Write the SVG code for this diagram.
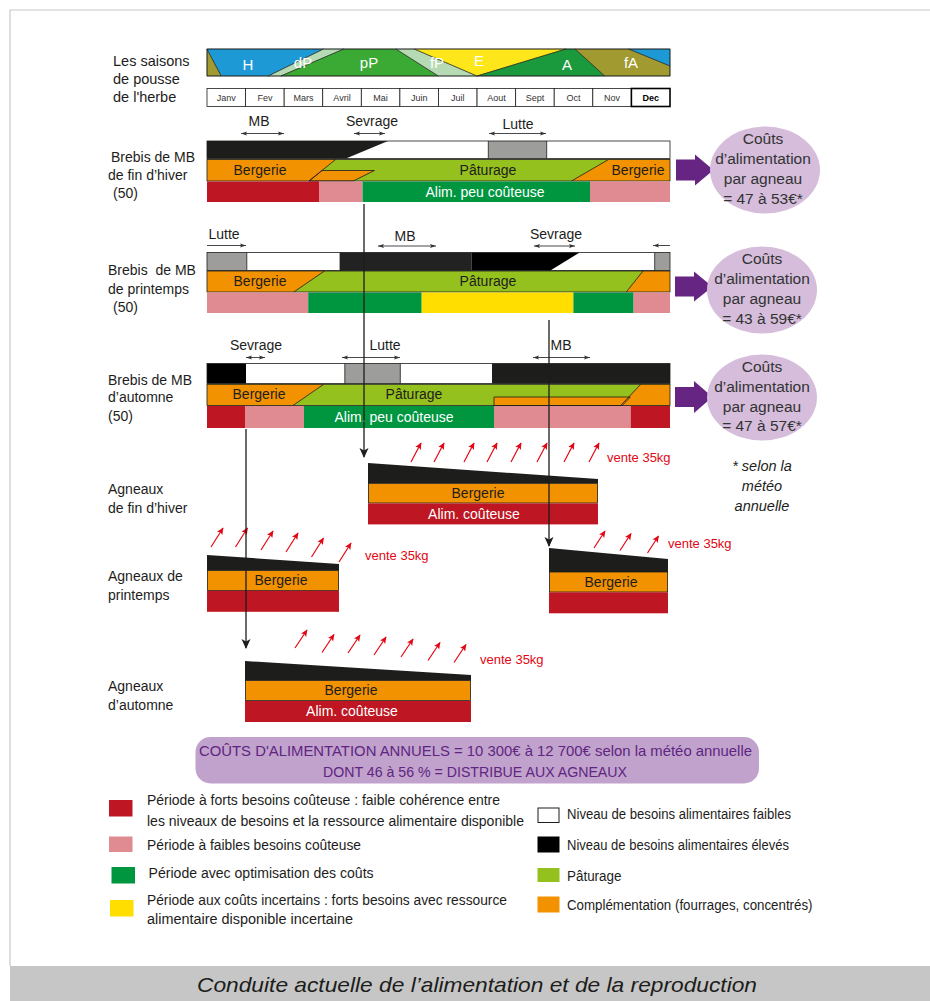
<svg xmlns="http://www.w3.org/2000/svg" width="930" height="1001" viewBox="0 0 930 1001">
<style>
text{font-family:"Liberation Sans",Arial,sans-serif;}
.lbl{font-size:14px;fill:#1d1d1b;}
.bar{font-size:14px;fill:#1d1d1b;text-anchor:middle;}
.wt{font-size:14px;fill:#fff;text-anchor:middle;}
.ssn{font-size:15px;fill:#fff;text-anchor:middle;}
.mo{font-size:9px;fill:#333;text-anchor:middle;}
.ell{font-size:15.5px;fill:#333;text-anchor:middle;}
.vente{font-size:13px;fill:#e30613;}
.leg{font-size:14px;fill:#1d1d1b;}
.ol{stroke:#1d1d1b;stroke-width:0.8;}
.sp{stroke:#1d1d1b;stroke-width:0.6;}
.la{stroke:#333;stroke-width:0.9;fill:none;marker-start:url(#sa);marker-end:url(#sa);}
.ra{stroke:#e30613;stroke-width:1.2;marker-end:url(#ra);}
.con{stroke:#1d1d1b;stroke-width:1.3;fill:none;marker-end:url(#ah);}
.red{fill:#be1622;}.pink{fill:#e08a92;}.dg{fill:#009640;}.yel{fill:#ffde00;}
.or{fill:#f39200;}.pat{fill:#95c11f;}.blk{fill:#1d1d1b;}.gry{fill:#9d9d9c;}
.parr{fill:#662483;}
.ellf{fill:#d5bddb;}
</style>
<defs>
<marker id="ah" markerUnits="userSpaceOnUse" markerWidth="10" markerHeight="10" viewBox="0 0 10 10" refX="9" refY="5" orient="auto"><path d="M0,0.5 L10,5 L0,9.5 L2.5,5 z" fill="#1d1d1b"/></marker>
<marker id="sa" markerUnits="userSpaceOnUse" markerWidth="6" markerHeight="6" viewBox="0 0 10 10" refX="10" refY="5" orient="auto-start-reverse"><path d="M0,1.5 L10,5 L0,8.5 L2,5 z" fill="#333"/></marker>
<marker id="ra" markerUnits="userSpaceOnUse" markerWidth="7" markerHeight="7" viewBox="0 0 10 10" refX="9" refY="5" orient="auto"><path d="M0,0.5 L10,5 L0,9.5 L2,5 z" fill="#e30613"/></marker>
</defs>

<rect x="0" y="0" width="930" height="1001" fill="#fff"/>
<path d="M10,966 L10,10 L930,10" fill="none" stroke="#c8c8c8" stroke-width="1.2"/>

<!-- Seasons -->
<g id="saisons">
<text class="lbl" x="113" y="66" style="font-size:14.5px">Les saisons</text>
<text class="lbl" x="113" y="84" style="font-size:14.5px">de pousse</text>
<text class="lbl" x="113" y="102" style="font-size:14.5px">de l'herbe</text>
<polygon class="sp" fill="#a09a30" points="207,49 221.3,76 207,76"/>
<polygon class="sp" fill="#1d9ad6" points="207,49 323.7,49 268.3,76 221.3,76"/>
<polygon class="sp" fill="#b6dab3" points="323.7,49 344,49 281,76 268.3,76"/>
<polygon class="sp" fill="#3aaa35" points="344,49 396,49 438.4,76 281,76"/>
<polygon class="sp" fill="#b6dab3" points="396,49 414.3,49 477.2,76 438.4,76"/>
<polygon class="sp" fill="#fde71a" points="414.3,49 566,49 477.2,76"/>
<polygon class="sp" fill="#1a9a3c" points="566,49 575.2,49 604.8,76 477.2,76"/>
<polygon class="sp" fill="#a09a30" points="575.2,49 628.8,49 670,65.9 670,76 604.8,76"/>
<polygon class="sp" fill="#1d9ad6" points="628.8,49 670,49 670,65.9"/>
<rect x="207" y="49" width="463" height="27" fill="none" class="sp"/>
<text class="ssn" x="248" y="70">H</text>
<text class="ssn" x="303" y="68">dP</text>
<text class="ssn" x="369" y="68">pP</text>
<text class="ssn" x="437" y="68">fP</text>
<text class="ssn" x="479" y="66">E</text>
<text class="ssn" x="567" y="70">A</text>
<text class="ssn" x="631" y="68">fA</text>
</g>

<g id="mois">
<rect x="207" y="88.5" width="38.58" height="18" fill="#fff" class="ol"/>
<rect x="245.58" y="88.5" width="38.58" height="18" fill="#fff" class="ol"/>
<rect x="284.16" y="88.5" width="38.58" height="18" fill="#fff" class="ol"/>
<rect x="322.74" y="88.5" width="38.58" height="18" fill="#fff" class="ol"/>
<rect x="361.32" y="88.5" width="38.58" height="18" fill="#fff" class="ol"/>
<rect x="399.9" y="88.5" width="38.58" height="18" fill="#fff" class="ol"/>
<rect x="438.48" y="88.5" width="38.58" height="18" fill="#fff" class="ol"/>
<rect x="477.06" y="88.5" width="38.58" height="18" fill="#fff" class="ol"/>
<rect x="515.64" y="88.5" width="38.58" height="18" fill="#fff" class="ol"/>
<rect x="554.22" y="88.5" width="38.58" height="18" fill="#fff" class="ol"/>
<rect x="592.8" y="88.5" width="38.58" height="18" fill="#fff" class="ol"/>
<rect x="631.38" y="88.5" width="38.62" height="18" fill="#fff" stroke="#000" stroke-width="1.6"/>
<text class="mo" x="226.3" y="101">Janv</text>
<text class="mo" x="264.9" y="101">Fev</text>
<text class="mo" x="303.5" y="101">Mars</text>
<text class="mo" x="342" y="101">Avril</text>
<text class="mo" x="380.6" y="101">Mai</text>
<text class="mo" x="419.2" y="101">Juin</text>
<text class="mo" x="457.8" y="101">Juil</text>
<text class="mo" x="496.4" y="101">Aout</text>
<text class="mo" x="534.9" y="101">Sept</text>
<text class="mo" x="573.5" y="101">Oct</text>
<text class="mo" x="612.1" y="101">Nov</text>
<text class="mo" x="650.7" y="101" style="font-weight:bold;fill:#000">Dec</text>
</g>

<!-- Row 1 -->
<g id="brebis-fin-hiver">
<text class="lbl" x="111" y="162">Brebis de MB</text>
<text class="lbl" x="108" y="180">de fin d’hiver</text>
<text class="lbl" x="113" y="198">(50)</text>
<text class="bar" x="259" y="126">MB</text>
<line class="la" x1="241" y1="133.5" x2="284" y2="133.5"/>
<text class="bar" x="372" y="126">Sevrage</text>
<line class="la" x1="354" y1="133.5" x2="385" y2="133.5"/>
<text class="bar" x="518" y="129">Lutte</text>
<line class="la" x1="489" y1="133.5" x2="546" y2="133.5"/>
<rect x="207" y="141" width="463" height="17.5" fill="#fff"/>
<polygon class="blk" points="207,141 388,141 346,158.5 207,158.5"/>
<rect class="gry" x="488.3" y="141" width="58.4" height="17.5"/>
<line x1="488.3" y1="141" x2="488.3" y2="158.5" class="ol"/>
<line x1="546.7" y1="141" x2="546.7" y2="158.5" class="ol"/>
<rect x="207" y="141" width="463" height="17.5" fill="none" class="ol"/>
<rect class="pat" x="207" y="159.5" width="463" height="21.5"/>
<polygon class="or" points="207,159.5 335.6,159.5 309,181 207,181"/>
<polygon class="or" points="608.5,159.5 670,159.5 670,181 571.5,181"/>
<polygon class="or ol" points="322,170.5 374.4,170.5 353.3,181 309,181"/>
<line x1="335.6" y1="159.5" x2="309" y2="181" class="ol"/>
<line x1="608.5" y1="159.5" x2="571.5" y2="181" class="ol"/>
<rect x="207" y="159.5" width="463" height="21.5" fill="none" class="ol"/>
<text class="bar" x="260" y="175">Bergerie</text>
<text class="bar" x="488" y="175">Pâturage</text>
<text class="bar" x="638" y="175">Bergerie</text>
<rect class="red" x="207" y="181.5" width="112" height="20.5"/>
<rect class="pink" x="319" y="181.5" width="43.6" height="20.5"/>
<rect class="dg" x="362.6" y="181.5" width="227.4" height="20.5"/>
<rect class="pink" x="590" y="181.5" width="80" height="20.5"/>
<text class="wt" x="485" y="197">Alim. peu coûteuse</text>
</g>

<!-- Row 2 -->
<g id="brebis-printemps">
<text class="lbl" x="108" y="275" style="white-space:pre" xml:space="preserve">Brebis  de MB</text>
<text class="lbl" x="108" y="294">de printemps</text>
<text class="lbl" x="113" y="312">(50)</text>
<text class="bar" x="224" y="239">Lutte</text>
<line x1="207" y1="245.5" x2="246" y2="245.5" stroke="#333" stroke-width="0.9" marker-end="url(#sa)"/>
<text class="bar" x="405" y="241">MB</text>
<line class="la" x1="378" y1="246" x2="436" y2="246"/>
<text class="bar" x="556" y="239">Sevrage</text>
<line class="la" x1="534" y1="246" x2="575" y2="246"/>
<line x1="670" y1="245.5" x2="653" y2="245.5" stroke="#333" stroke-width="0.9" marker-end="url(#sa)"/>
<rect x="207" y="252.5" width="463" height="18" fill="#fff"/>
<rect class="gry" x="207" y="252.5" width="39.8" height="18"/>
<rect fill="#222" x="339.6" y="252.5" width="132.1" height="18"/>
<polygon fill="#000" points="471.7,252.5 579.6,252.5 550.4,270.5 471.7,270.5"/>
<rect class="gry" x="654.7" y="252.5" width="15.3" height="18"/>
<line x1="246.8" y1="252.5" x2="246.8" y2="270.5" class="ol"/>
<line x1="654.7" y1="252.5" x2="654.7" y2="270.5" class="ol"/>
<rect x="207" y="252.5" width="463" height="18" fill="none" class="ol"/>
<rect class="pat" x="207" y="271" width="463" height="21"/>
<polygon class="or" points="207,271 324.5,271 293.8,292 207,292"/>
<polygon class="or" points="643,271 670,271 670,292 626.3,292"/>
<line x1="324.5" y1="271" x2="293.8" y2="292" class="ol"/>
<line x1="643" y1="271" x2="626.3" y2="292" class="ol"/>
<rect x="207" y="271" width="463" height="21" fill="none" class="ol"/>
<text class="bar" x="260" y="286">Bergerie</text>
<text class="bar" x="488" y="286">Pâturage</text>
<rect class="pink" x="207" y="292.5" width="101.2" height="20.5"/>
<rect class="dg" x="308.2" y="292.5" width="113.5" height="20.5"/>
<rect class="yel" x="421.7" y="292.5" width="151.7" height="20.5"/>
<rect class="dg" x="573.4" y="292.5" width="60.2" height="20.5"/>
<rect class="pink" x="633.6" y="292.5" width="36.4" height="20.5"/>
</g>

<!-- Row 3 -->
<g id="brebis-automne">
<text class="lbl" x="108" y="385">Brebis de MB</text>
<text class="lbl" x="108" y="402">d’automne</text>
<text class="lbl" x="108" y="421">(50)</text>
<text class="bar" x="256" y="350">Sevrage</text>
<line class="la" x1="246" y1="357.5" x2="265" y2="357.5"/>
<text class="bar" x="385" y="350">Lutte</text>
<line class="la" x1="342" y1="357.5" x2="400" y2="357.5"/>
<text class="bar" x="561" y="350">MB</text>
<line class="la" x1="533" y1="357.5" x2="590" y2="357.5"/>
<rect x="207" y="363.5" width="463" height="20" fill="#fff"/>
<rect fill="#000" x="207" y="363.5" width="39" height="20"/>
<rect class="gry" x="344.8" y="363.5" width="55.5" height="20"/>
<rect fill="#1d1d1b" x="492" y="363.5" width="178" height="20"/>
<line x1="344.8" y1="363.5" x2="344.8" y2="383.5" class="ol"/>
<line x1="400.3" y1="363.5" x2="400.3" y2="383.5" class="ol"/>
<rect x="207" y="363.5" width="463" height="20" fill="none" class="ol"/>
<rect class="pat" x="207" y="384.3" width="463" height="21.2"/>
<polygon class="or" points="207,384.3 323.7,384.3 293,405.5 207,405.5"/>
<polygon class="or" points="640.7,384.3 670,384.3 670,405.5 620.7,405.5"/>
<polygon class="or ol" points="494,397 630.3,397 622.3,405.5 494,405.5"/>
<line x1="323.7" y1="384.3" x2="293" y2="405.5" class="ol"/>
<line x1="640.7" y1="384.3" x2="620.7" y2="405.5" class="ol"/>
<rect x="207" y="384.3" width="463" height="21.2" fill="none" class="ol"/>
<text class="bar" x="259" y="399">Bergerie</text>
<text class="bar" x="414" y="399">Pâturage</text>
<rect class="red" x="207" y="406" width="38" height="22"/>
<rect class="pink" x="245" y="406" width="59" height="22"/>
<rect class="dg" x="304" y="406" width="190" height="22"/>
<rect class="pink" x="494" y="406" width="136.7" height="22"/>
<rect class="red" x="630.7" y="406" width="39.3" height="22"/>
<text class="wt" x="394" y="422">Alim. peu coûteuse</text>
</g>

<!-- Cost ellipses -->
<g id="cout-fin-hiver">
<polygon class="parr" points="676,159.5 695,159.5 695,154.5 713.5,170 695,185.5 695,180.5 676,180.5"/>
<ellipse class="ellf" cx="765" cy="170" rx="55" ry="43.5"/>
<text class="ell" x="763" y="143.5">Coûts</text>
<text class="ell" x="763" y="163.5">d’alimentation</text>
<text class="ell" x="763" y="183.5">par agneau</text>
<text class="ell" x="763" y="203.5">= 47 à 53€*</text>
</g>
<g id="cout-printemps">
<polygon class="parr" points="675,276.5 694,276.5 694,271.5 712.5,286.7 694,301.5 694,296.5 675,296.5"/>
<ellipse class="ellf" cx="762" cy="290" rx="55" ry="43.5"/>
<text class="ell" x="762" y="263.5">Coûts</text>
<text class="ell" x="762" y="283.5">d’alimentation</text>
<text class="ell" x="762" y="303.5">par agneau</text>
<text class="ell" x="762" y="323.5">= 43 à 59€*</text>
</g>
<g id="cout-automne">
<polygon class="parr" points="675,387 694,387 694,381 712.5,397 694,413 694,407 675,407"/>
<ellipse class="ellf" cx="762" cy="397.5" rx="55" ry="43"/>
<text class="ell" x="762" y="372">Coûts</text>
<text class="ell" x="762" y="392">d’alimentation</text>
<text class="ell" x="762" y="412">par agneau</text>
<text class="ell" x="762" y="431">= 47 à 57€*</text>
</g>
<g id="note">
<text class="bar" x="762" y="471" style="font-style:italic;font-size:14.5px">* selon la</text>
<text class="bar" x="762" y="491" style="font-style:italic;font-size:14.5px">météo</text>
<text class="bar" x="762" y="511" style="font-style:italic;font-size:14.5px">annuelle</text>
</g>

<!-- Lambs -->
<g id="agneaux-fin-hiver">
<text class="lbl" x="108" y="494">Agneaux</text>
<text class="lbl" x="108" y="513">de fin d’hiver</text>
<polygon class="blk" points="368,463 598,479 598,483 368,483"/>
<rect class="or ol" x="368.4" y="483.4" width="229.2" height="19.6"/>
<rect class="red" x="368" y="503.4" width="230" height="21"/>
<text class="bar" x="478" y="498">Bergerie</text>
<text class="wt" x="474" y="519">Alim. coûteuse</text>
<line class="ra" x1="411" y1="462" x2="421" y2="443"/>
<line class="ra" x1="434" y1="462" x2="444" y2="443"/>
<line class="ra" x1="464" y1="462" x2="474" y2="443"/>
<line class="ra" x1="487" y1="462" x2="497" y2="443"/>
<line class="ra" x1="511" y1="462" x2="521" y2="443"/>
<line class="ra" x1="537" y1="462" x2="547" y2="443"/>
<line class="ra" x1="564" y1="462" x2="574" y2="443"/>
<line class="ra" x1="589" y1="462" x2="599" y2="443"/>
<text class="vente" x="607" y="462">vente 35kg</text>
</g>

<g id="agneaux-printemps">
<text class="lbl" x="108" y="581">Agneaux de</text>
<text class="lbl" x="108" y="600">printemps</text>
<polygon class="blk" points="207,555 339,564 339,570.5 207,570.5"/>
<rect class="or ol" x="207.4" y="570.5" width="131.2" height="20"/>
<rect class="red" x="207" y="590.8" width="132" height="21"/>
<text class="bar" x="281" y="585">Bergerie</text>
<line class="ra" x1="211" y1="547" x2="223" y2="528"/>
<line class="ra" x1="235.5" y1="547" x2="247.5" y2="528"/>
<line class="ra" x1="261" y1="550" x2="273" y2="531"/>
<line class="ra" x1="286" y1="552" x2="298" y2="533"/>
<line class="ra" x1="311.5" y1="557" x2="323.5" y2="538"/>
<line class="ra" x1="339" y1="562" x2="351" y2="543"/>
<text class="vente" x="365" y="560">vente 35kg</text>
</g>

<g id="agneaux-printemps-2">
<polygon class="blk" points="549,548 668,559 668,572 549,572"/>
<rect class="or ol" x="549.4" y="572" width="118.2" height="20"/>
<rect class="red" x="549" y="592.3" width="119" height="21"/>
<text class="bar" x="611" y="587">Bergerie</text>
<line class="ra" x1="594" y1="548" x2="605" y2="531"/>
<line class="ra" x1="620" y1="550.5" x2="631" y2="533.5"/>
<line class="ra" x1="647.5" y1="553" x2="658.5" y2="536"/>
<text class="vente" x="668" y="548">vente 35kg</text>
</g>

<g id="agneaux-automne">
<text class="lbl" x="108" y="691">Agneaux</text>
<text class="lbl" x="108" y="710">d’automne</text>
<polygon class="blk" points="245,661 471,675 471,680.5 245,680.5"/>
<rect class="or ol" x="245.4" y="680.5" width="225.2" height="20"/>
<rect class="red" x="245" y="701" width="226" height="21"/>
<text class="bar" x="351" y="695">Bergerie</text>
<text class="wt" x="352" y="716">Alim. coûteuse</text>
<line class="ra" x1="295" y1="648" x2="307" y2="630"/>
<line class="ra" x1="322" y1="652.5" x2="334" y2="634.5"/>
<line class="ra" x1="348" y1="653" x2="360" y2="635"/>
<line class="ra" x1="374" y1="655" x2="386" y2="637"/>
<line class="ra" x1="401" y1="657" x2="413" y2="639"/>
<line class="ra" x1="428" y1="660.5" x2="440" y2="642.5"/>
<line class="ra" x1="454" y1="662.5" x2="466" y2="644.5"/>
<text class="vente" x="480" y="664">vente 35kg</text>
</g>

<!-- Connectors -->
<g id="connecteurs">
<line class="con" x1="364" y1="204" x2="364" y2="457"/>
<line class="con" x1="549" y1="320" x2="549" y2="546"/>
<line class="con" x1="246" y1="429" x2="246" y2="648"/>
</g>

<!-- Total -->
<g id="total">
<rect x="195.5" y="737" width="563.5" height="46.5" rx="15" ry="15" fill="#c0a2cd"/>
<text x="199" y="756" textLength="553" lengthAdjust="spacingAndGlyphs" style="font-size:15px;fill:#5f2580">COÛTS D'ALIMENTATION ANNUELS = 10 300€ à 12 700€  selon la météo annuelle</text>
<text x="323" y="777" textLength="304" lengthAdjust="spacingAndGlyphs" style="font-size:15px;fill:#5f2580">DONT 46 à 56 % = DISTRIBUE AUX AGNEAUX</text>
</g>

<!-- Legend -->
<g id="legende">
<rect class="red" x="109" y="800" width="23.5" height="16.5"/>
<rect class="pink" x="109" y="836.5" width="23.5" height="15.5"/>
<rect class="dg" x="111.5" y="867" width="23.5" height="16.5"/>
<rect class="yel" x="110" y="900" width="23.5" height="16.5"/>
<text class="leg" x="147" y="805" textLength="353" lengthAdjust="spacingAndGlyphs">Période à forts besoins coûteuse : faible cohérence entre</text>
<text class="leg" x="147" y="826" textLength="377" lengthAdjust="spacingAndGlyphs">les niveaux de besoins et la ressource alimentaire disponible</text>
<text class="leg" x="147" y="850" textLength="214" lengthAdjust="spacingAndGlyphs">Période à faibles besoins coûteuse</text>
<text class="leg" x="148.6" y="878" textLength="225" lengthAdjust="spacingAndGlyphs">Période avec optimisation des coûts</text>
<text class="leg" x="147" y="905" textLength="360" lengthAdjust="spacingAndGlyphs">Période aux coûts incertains : forts besoins avec ressource</text>
<text class="leg" x="147" y="924" textLength="206" lengthAdjust="spacingAndGlyphs">alimentaire disponible incertaine</text>
<rect x="538" y="808" width="21" height="14.5" fill="#fff" stroke="#1d1d1b" stroke-width="1"/>
<rect x="537.5" y="836.5" width="22" height="16" fill="#000"/>
<rect class="pat" x="537.5" y="868" width="22" height="14"/>
<rect class="or" x="537.5" y="896.5" width="22" height="16"/>
<text class="leg" x="567" y="819" textLength="224" lengthAdjust="spacingAndGlyphs">Niveau de besoins alimentaires faibles</text>
<text class="leg" x="567" y="850" textLength="222" lengthAdjust="spacingAndGlyphs">Niveau de besoins alimentaires élevés</text>
<text class="leg" x="567" y="881" textLength="54.5" lengthAdjust="spacingAndGlyphs">Pâturage</text>
<text class="leg" x="567" y="910" textLength="245.5" lengthAdjust="spacingAndGlyphs">Complémentation (fourrages, concentrés)</text>
</g>

<!-- Footer -->
<g id="titre">
<rect x="10" y="966" width="920" height="35" fill="#c6c6c6"/>
<text x="197" y="992" textLength="560" lengthAdjust="spacingAndGlyphs" style="font-size:21px;font-style:italic;fill:#1d1d1b">Conduite actuelle de l’alimentation et de la reproduction</text>
</g>
</svg>
